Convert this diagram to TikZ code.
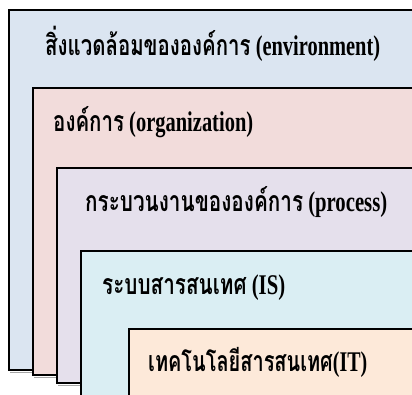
\documentclass[tikz,border=0pt]{standalone}
\usepackage{fontspec}
\setmainfont{Liberation Serif}
\newfontfamily\thaifont[Script=Thai]{Loma}
\newcommand{\thx}[1]{{\thaifont\bfseries #1}}
\definecolor{cenv}{HTML}{DBE5F1}
\definecolor{corg}{HTML}{F2DCDB}
\definecolor{cproc}{HTML}{E5E0EC}
\definecolor{cis}{HTML}{DAEEF3}
\definecolor{cit}{HTML}{FDE9D9}
\tikzset{
  layer/.style={draw=black, line width=2pt},
  shade/.style={draw=black!35, line width=1pt},
  lbl/.style={anchor=base west, inner sep=0pt, font=\fontsize{28.5}{31}\selectfont\bfseries}
}
\begin{document}
\begin{tikzpicture}[x=1pt,y=-1pt]
\useasboundingbox (0,0) rectangle (412,394);
\clip (0,0) rectangle (412,394);
% shadows
\draw[shade] (10,372) -- (430,372);
\draw[shade] (34,377) -- (430,377);
\draw[shade] (58,385) -- (430,385);
% layers
\draw[layer, fill=cenv] (9,10) rectangle (430,370);
\draw[layer, fill=corg] (33,88) rectangle (430,375);
\draw[layer, fill=cproc] (57,167.5) rectangle (430,383);
\draw[layer, fill=cis] (81,251) rectangle (430,420);
\draw[layer, fill=cit] (128.5,329) rectangle (430,420);
% labels
\node[lbl] (tenv) at (45,55.5) {\resizebox{335pt}{\height}{\thx{สิ่งแวดล้อมขององค์การ} (environment)}};
\node[lbl] (torg) at (53,131) {\resizebox{200pt}{\height}{\thx{องค์การ} (organization)}};
\node[lbl] (tproc) at (85,211.5) {\resizebox{302pt}{\height}{\thx{กระบวนงานขององค์การ} (process)}};
\node[lbl] (tis) at (102,294.5) {\resizebox{183pt}{\height}{\thx{ระบบสารสนเทศ} (IS)}};
\node[lbl] (tit) at (148,371.5) {\resizebox{219pt}{\height}{\thx{เทคโนโลยีสารสนเทศ}(IT)}};
\end{tikzpicture}
\end{document}
